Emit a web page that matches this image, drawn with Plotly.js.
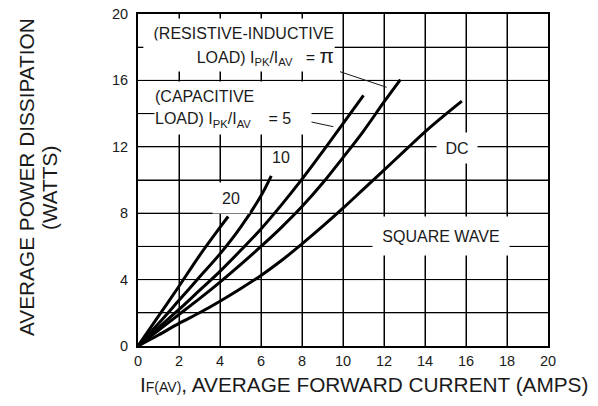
<!DOCTYPE html>
<html>
<head>
<meta charset="utf-8">
<script src="https://cdn.plot.ly/plotly-3.0.1.min.js"></script>
<style>html,body{margin:0;padding:0;background:#fff;}#chart{width:598px;height:406px;}</style>
</head>
<body>
<div id="chart"></div>
<script>
// ---- data ----
const dcX = [0, 1, 2, 3, 4, 5, 6, 7, 8, 9, 10, 11, 12, 13, 14, 15, 15.8];
const dcY = [0, 0.66, 1.36, 2.0, 2.7, 3.45, 4.25, 5.15, 6.15, 7.2, 8.3, 9.45, 10.6, 11.75, 12.9, 13.95, 14.75];

const piX = [0, 1, 2, 3, 4, 5, 6, 7, 8, 9, 10, 11, 12, 12.8];
const piY = [0, 0.95, 1.9, 2.85, 3.85, 4.9, 6.0, 7.15, 8.4, 9.8, 11.35, 12.95, 14.7, 16.05];

const cap5X = [0, 1, 2, 3, 4, 5, 6, 7, 8, 9, 10, 11];
const cap5Y = [0, 1.1, 2.2, 3.35, 4.5, 5.75, 7.05, 8.5, 10.05, 11.7, 13.4, 15.1];

const cap10X = [0, 1, 2, 3, 4, 5, 6, 6.5];
const cap10Y = [0, 1.35, 2.75, 4.15, 5.55, 7.15, 9.05, 10.25];

const cap20X = [0, 1, 2, 3, 4, 4.4];
const cap20Y = [0, 1.8, 3.6, 5.45, 7.15, 7.8];

const xTickVals = [0, 2, 4, 6, 8, 10, 12, 14, 16, 18, 20];
const xTickText = ['0', '2', '4', '6', '8', '10', '12', '14', '16', '18', '20'];
const yTickVals = [0, 4, 8, 12, 16, 20];
const yTickText = ['0', '4', '8', '12', '16', '20'];
const xGridVals = [2, 4, 6, 8, 10, 12, 14, 16, 18];
const yGridVals = [2, 4, 6, 8, 10, 12, 14, 16, 18];

const curveLabels = ['20', '10', 'DC', 'SQUARE WAVE'];

// ---- layout geometry ----
const W = 598, H = 406;
const M = {l: 138, r: 50, t: 14, b: 60};
const PW = W - M.l - M.r, PH = H - M.t - M.b;
// pixel -> data helpers (for label placement only)
const px2x = px => (px - M.l) / PW * 20;
const py2y = py => (M.t + PH - py) / PH * 20;

const FONT = 'Liberation Sans, Arial, Helvetica, sans-serif';
const INK = '#1a1a1a';

function curve(x, y) {
  return {x: x, y: y, type: 'scatter', mode: 'lines',
    line: {color: '#000', width: 3, shape: 'spline', smoothing: 1},
    hoverinfo: 'skip', showlegend: false};
}
const traces = [curve(dcX, dcY), curve(piX, piY), curve(cap5X, cap5Y), curve(cap10X, cap10Y), curve(cap20X, cap20Y)];

function box(text, cx, cy, w, h, opts) {
  return Object.assign({
    text: text, xref: 'x', yref: 'y', x: px2x(cx), y: py2y(cy),
    xanchor: 'center', yanchor: 'middle', showarrow: false,
    bgcolor: '#fff', borderpad: 0, width: w, height: h,
    font: {family: FONT, size: 16, color: INK}
  }, opts || {});
}
const nb = '\u00a0';
const annotations = [
  box('(RESISTIVE-INDUCTIVE', 239, 33, 190, 28, {align: 'right'}),
  box('LOAD) I<sub>PK</sub>/I<sub>AV</sub>' + nb + nb + nb + '= <span style="font-size:21px">π</span>', 239, 56, 190, 30, {align: 'right'}),
  box('(CAPACITIVE', 233, 96, 156, 28, {align: 'left'}),
  box('LOAD) I<sub>PK</sub>/I<sub>AV</sub>' + nb + nb + nb + nb + '= 5', 233, 120, 156, 28, {align: 'left'}),
  box(curveLabels[0], 231, 198, 36, 30),
  box(curveLabels[1], 280.5, 157, 22, 14),
  box(curveLabels[2], 457, 147.5, 40, 30),
  box(curveLabels[3], 441, 236, 136, 38),
  // axis titles
  {text: 'I<span style="font-size:14px">F(AV)</span>, AVERAGE FORWARD CURRENT (AMPS)',
   xref: 'paper', yref: 'paper', x: 0, xanchor: 'left', y: -(385 - M.t - PH) / PH, yanchor: 'middle',
   showarrow: false, font: {family: FONT, size: 20.8, color: INK}},
  {text: 'AVERAGE POWER DISSIPATION', textangle: -90,
   xref: 'paper', yref: 'paper', x: (26 - M.l) / PW, xanchor: 'center', y: (M.t + PH - 177) / PH, yanchor: 'middle',
   showarrow: false, font: {family: FONT, size: 20.8, color: INK}},
  {text: '(WATTS)', textangle: -90,
   xref: 'paper', yref: 'paper', x: (49 - M.l) / PW, xanchor: 'center', y: (M.t + PH - 188) / PH, yanchor: 'middle',
   showarrow: false, font: {family: FONT, size: 20.8, color: INK}}
];

// grid lines drawn from the grid value arrays (full plot height / width)
const gridLine = {color: '#000', width: 1};
const shapes = []
  .concat(xGridVals.map(v => ({type: 'line', layer: 'above', xref: 'x', yref: 'paper', x0: v, x1: v, y0: 0, y1: 1, line: gridLine})))
  .concat(yGridVals.map(v => ({type: 'line', layer: 'above', xref: 'paper', yref: 'y', x0: 0, x1: 1, y0: v, y1: v, line: gridLine})))
  .concat([
    {type: 'line', xref: 'x', yref: 'y', x0: px2x(340), y0: py2y(71.7), x1: px2x(386.7), y1: py2y(87.3), line: {color: INK, width: 1}},
    {type: 'line', xref: 'x', yref: 'y', x0: px2x(310), y0: py2y(121.7), x1: px2x(333.3), y1: py2y(126.7), line: {color: INK, width: 1}}
  ]);

const axisCommon = {
  range: [0, 20], showgrid: true, gridcolor: '#000000', gridwidth: 1,
  zeroline: false, showline: true, linecolor: '#000000', linewidth: 2, mirror: true,
  ticks: 'outside', tickcolor: 'rgba(255,255,255,0)', tickfont: {family: FONT, size: 14.5, color: INK}
};

const layout = {
  width: W, height: H, margin: M, paper_bgcolor: '#ffffff', plot_bgcolor: '#ffffff',
  showlegend: false,
  xaxis: Object.assign({}, axisCommon, {tickvals: xTickVals, ticktext: xTickText, ticklen: 1}),
  yaxis: Object.assign({}, axisCommon, {tickvals: yTickVals, ticktext: yTickText, ticklen: 5,
    minor: {dtick: 2, tick0: 0, showgrid: true, gridcolor: '#000000', gridwidth: 1, ticks: ''}}),
  annotations: annotations, shapes: shapes
};

Plotly.newPlot('chart', traces, layout, {staticPlot: true, displayModeBar: false});
</script>
</body>
</html>
